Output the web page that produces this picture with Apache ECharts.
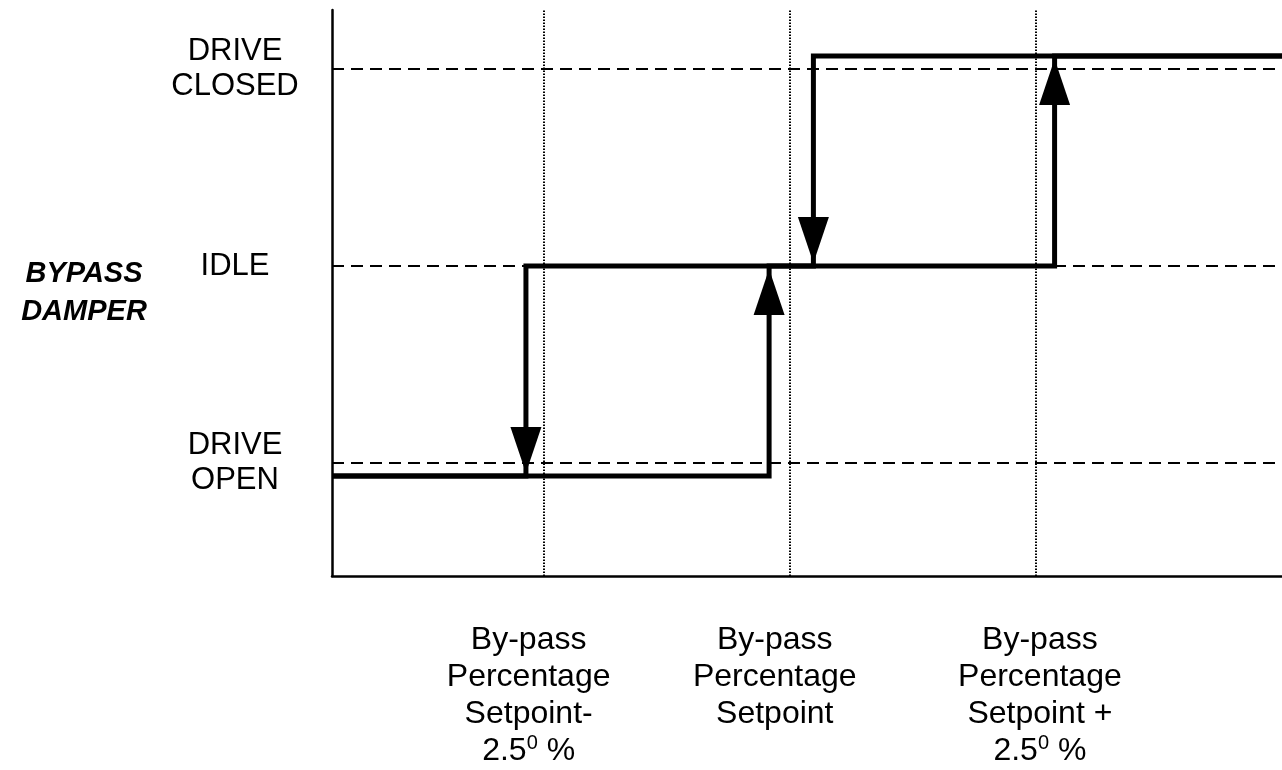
<!DOCTYPE html>
<html>
<head>
<meta charset="utf-8">
<script src="https://cdn.jsdelivr.net/npm/echarts@6/dist/echarts.min.js"></script>
<style>
html,body{margin:0;padding:0;background:#fff;}
#chart{width:1282px;height:770px;}
</style>
</head>
<body>
<div id="chart"></div>
<script>
// ---- data ----
const xRange = [-4.65, 5];
const yRange = [-0.574, 2.3];
const xTicks = [-2.5, 0, 2.5];
const xTickLabels = ['By-pass\nPercentage\nSetpoint-\n2.5^0 %', 'By-pass\nPercentage\nSetpoint', 'By-pass\nPercentage\nSetpoint +\n2.5^0 %'];
const yLevels = [0, 1, 2];
const yLevelLabels = ['DRIVE\nOPEN', 'IDLE', 'DRIVE\nCLOSED'];
const yAxisTitle = 'BYPASS\nDAMPER';
const risingPath = [[-4.65, -0.066], [-0.21, -0.066], [-0.21, 1], [2.69, 1], [2.69, 2.066], [5, 2.066]];
const fallingPath = [[5, 2.066], [0.24, 2.066], [0.24, 1], [-2.68, 1], [-2.68, -0.066], [-4.65, -0.066]];
const upArrows = [[-0.21, 1], [2.69, 2.066]];
const downArrows = [[0.24, 1], [-2.68, -0.066]];

const FONT = '"Liberation Sans", Arial, sans-serif';

function richLabel(text, idx) {
  const lines = text.split('\n');
  const left = idx < 2; // shift first two left, third slightly right
  return lines.map(function (ln) {
    if (ln.indexOf('^') >= 0) {
      const parts = ln.split('^');
      const base = parts[0];
      const sup = parts[1].charAt(0);
      const rest = parts[1].slice(1);
      if (left) return '{t|' + base + '}{s|' + sup + '}{tl|' + rest + '}';
      return '{tr|' + base + '}{s|' + sup + '}{t|' + rest + '}';
    }
    return left ? '{tl|' + ln + '}' : '{tr|' + ln + '}';
  }).join('\n');
}

const chart = echarts.init(document.getElementById('chart'), null, {renderer: 'canvas'});
const tickLabelMap = {};
xTicks.forEach(function (v, i) { tickLabelMap[v] = richLabel(xTickLabels[i], i); });
const yLabelMap = {};
yLevels.forEach(function (v, i) { yLabelMap[v] = yLevelLabels[i]; });

const baseTxt = {fontFamily: FONT, fontSize: 32, lineHeight: 37, color: '#000'};

chart.setOption({
  animation: false,
  backgroundColor: '#fff',
  grid: {left: 332, right: 0, top: 10, bottom: 194, containLabel: false},
  xAxis: {
    type: 'value',
    min: xRange[0], max: xRange[1],
    axisLine: {show: true, onZero: false, lineStyle: {color: '#000', width: 2.5}},
    axisTick: {show: false},
    splitLine: {show: false},
    axisLabel: {
      customValues: xTicks,
      margin: 46,
      formatter: function (v) { return tickLabelMap[v] || ''; },
      rich: {
        t: Object.assign({}, baseTxt),
        tl: Object.assign({}, baseTxt, {padding: [0, 30, 0, 0]}),
        tr: Object.assign({}, baseTxt, {padding: [0, 0, 0, 8]}),
        s: {fontFamily: FONT, fontSize: 20, lineHeight: 37, verticalAlign: 'top', padding: [0, 0, 16, 0], color: '#000'}
      }
    }
  },
  yAxis: {
    type: 'value',
    min: yRange[0], max: yRange[1],
    name: yAxisTitle,
    nameLocation: 'middle',
    nameRotate: 0,
    nameGap: 248,
    nameTextStyle: {fontFamily: FONT, fontSize: 29, fontWeight: 'bold', fontStyle: 'italic', color: '#000', lineHeight: 38, align: 'center', verticalAlign: 'middle', padding: [0, 0, 12, 0]},
    axisLine: {show: true, onZero: false, lineStyle: {color: '#000', width: 2.5}},
    axisTick: {show: false},
    splitLine: {show: false},
    axisLabel: {
      customValues: yLevels,
      margin: 97,
      align: 'center',
      fontFamily: FONT, fontSize: 31, lineHeight: 35, color: '#000',
      formatter: function (v) { return yLabelMap[v] || ''; }
    }
  },
  series: [
    {
      type: 'line', data: [], silent: true, z: 1,
      markLine: {
        silent: true, symbol: 'none', label: {show: false}, animation: false,
        lineStyle: {color: '#000', width: 2, type: [12, 7], opacity: 1},
        data: yLevels.map(function (v) { return {yAxis: v}; })
      }
    },
    {
      type: 'line', data: [], silent: true, z: 1,
      markLine: {
        silent: true, symbol: 'none', label: {show: false}, animation: false,
        lineStyle: {color: '#000', width: 2, type: [1.5, 1.5], opacity: 1},
        data: xTicks.map(function (v) { return {xAxis: v}; })
      }
    },
    {
      type: 'line', data: risingPath, showSymbol: false, symbol: 'none', z: 3,
      lineStyle: {color: '#000', width: 5, cap: 'butt', join: 'miter', opacity: 1}
    },
    {
      type: 'line', data: fallingPath, showSymbol: false, symbol: 'none', z: 3,
      lineStyle: {color: '#000', width: 5, cap: 'butt', join: 'miter', opacity: 1}
    },
    {
      type: 'scatter', data: upArrows, symbol: 'triangle', symbolSize: [31, 46],
      symbolOffset: [0, 26], itemStyle: {color: '#000', opacity: 1}, z: 4, silent: true
    },
    {
      type: 'scatter', data: downArrows, symbol: 'triangle', symbolSize: [31, 46],
      symbolRotate: 180, symbolOffset: [0, -26], itemStyle: {color: '#000', opacity: 1}, z: 4, silent: true
    }
  ]
});
</script>
</body>
</html>
